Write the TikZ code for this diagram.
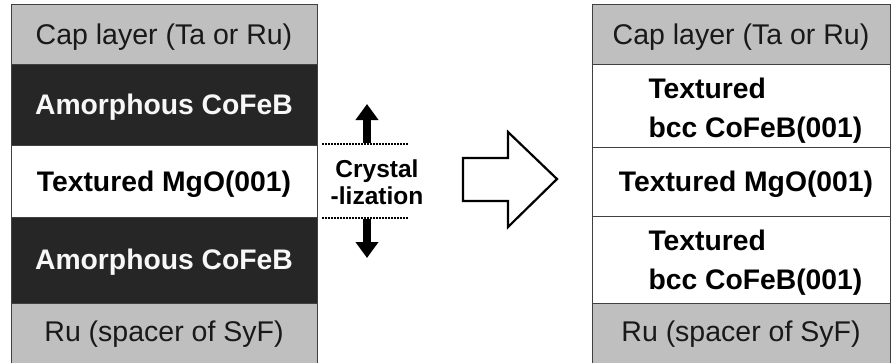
\documentclass[tikz,border=0pt]{standalone}
\usepackage{fontspec}
\usetikzlibrary{arrows.meta}
\setmainfont{Liberation Sans}
\begin{document}
\begin{tikzpicture}[x=1pt,y=-1pt,
  lay/.style={draw=black!75, line width=1pt},
  graylay/.style={lay, fill=black!25},
  darklay/.style={lay, fill=black!85},
  whitelay/.style={lay, fill=white},
  normtxt/.style={font=\fontsize{28.5}{32}\selectfont, text=black!90},
  boldtxt/.style={font=\fontsize{28.3}{32}\selectfont\bfseries},
  twotxt/.style={font=\fontsize{28.3}{39}\selectfont\bfseries, align=left, anchor=west},
  midtxt/.style={font=\fontsize{24.5}{27}\selectfont\bfseries, align=center},
  dotline/.style={dash pattern=on 1.6pt off 1.4pt, line width=1.8pt},
  vArrow/.style={-{Triangle[width=22pt,length=16pt]}, line width=7.5pt}]
\useasboundingbox (0,0) rectangle (892,362);
% left stack
\path[graylay] (11,4) rectangle (317,64);
\path[darklay] (11,64) rectangle (317,145);
\path[whitelay] (11,145) rectangle (317,217);
\path[darklay] (11,217) rectangle (317,303);
\path[graylay] (11,303) rectangle (317,366);
\node[normtxt] (l1) at (164,37) {Cap layer (Ta or Ru)};
\node[boldtxt, text=black!3] (l2) at (164,107) {Amorphous CoFeB};
\node[boldtxt] (l3) at (164,184) {Textured MgO(001)};
\node[boldtxt, text=black!3] (l4) at (164,262) {Amorphous CoFeB};
\node[normtxt] (l5) at (164,334) {Ru (spacer of SyF)};
% middle
\coordinate (d1a) at (322,144);
\coordinate (d1b) at (408,144);
\coordinate (d2a) at (322,218);
\coordinate (d2b) at (408,218);
\draw[dotline] (d1a) -- (d1b);
\draw[dotline] (d2a) -- (d2b);
\coordinate (u0) at (367,143);
\coordinate (u1) at (367,104);
\coordinate (w0) at (367,219);
\coordinate (w1) at (367,258);
\draw[vArrow] (u0) -- (u1);
\draw[vArrow] (w0) -- (w1);
\node[midtxt] (cr) at (377,182) {Crystal\\-lization};
% block arrow
\draw[line width=2.2pt, line join=miter, fill=white]
  (463,158) -- (508,158) -- (508,132) -- (557,179) -- (508,227) -- (508,201) -- (463,201) -- cycle;
% right stack
\path[graylay] (592,4) rectangle (890,64);
\path[whitelay] (592,64) rectangle (890,147);
\path[whitelay] (592,147) rectangle (890,216);
\path[whitelay] (592,216) rectangle (890,303);
\path[graylay] (592,303) rectangle (890,366);
\node[normtxt] (r1) at (741,37) {Cap layer (Ta or Ru)};
\node[twotxt] (r2) at (645,111) {Textured\\bcc CoFeB(001)};
\node[boldtxt] (r3) at (746,184) {Textured MgO(001)};
\node[twotxt] (r4) at (645,263) {Textured\\bcc CoFeB(001)};
\node[normtxt] (r5) at (741,334) {Ru (spacer of SyF)};
\end{tikzpicture}
\end{document}
